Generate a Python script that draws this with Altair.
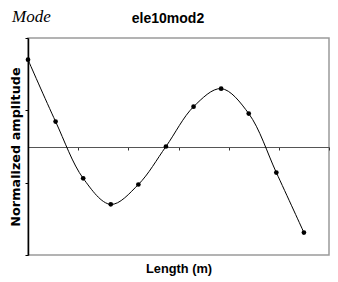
import altair as alt
import pandas as pd

# Data
length_m = [0.0, 1.1, 2.2, 3.3, 4.4, 5.5, 6.6, 7.7, 8.8, 9.9, 11.0]
amplitude = [2.40, 0.69, -0.88, -1.60, -1.05, 0.00, 1.10, 1.60, 0.91, -0.72, -2.38]
x_ticks = [0, 2, 4, 6, 8, 10, 12]
y_ticks = [-3, -2, -1, 0, 1, 2, 3]
chart_title = "ele10mod2"
caption_fragment = "Mode"

df = pd.DataFrame({"x": length_m, "y": amplitude})

FONT = "Liberation Sans"

x_scale = alt.Scale(domain=[0, 12], nice=False, zero=False)
y_scale = alt.Scale(domain=[-3, 3], nice=False)

x_enc = alt.X(
    "x:Q",
    scale=x_scale,
    axis=alt.Axis(
        title="Length (m)",
        values=x_ticks,
        labels=False,
        grid=False,
        offset=-108,
        domainColor="#555555",
        domainWidth=1.2,
        tickColor="#333333",
        tickSize=3,
        titleFont=FONT,
        titleFontSize=12.8,
        titleFontWeight="bold",
        titleColor="#000000",
        titleY=125,
        titleBaseline="alphabetic",
    ),
)
y_enc = alt.Y(
    "y:Q",
    scale=y_scale,
    axis=alt.Axis(
        title="Normalized amplitude",
        values=y_ticks,
        labels=False,
        grid=False,
        domainColor="#000000",
        domainWidth=1.5,
        tickColor="#000000",
        tickSize=3,
        titleFont="DejaVu Sans",
        titleFontSize=12.8,
        titleFontWeight="bold",
        titleColor="#000000",
        titlePadding=2,
    ),
)

line = alt.Chart(df).mark_line(
    interpolate="catmull-rom", color="#000000", strokeWidth=1
).encode(x=x_enc, y=y_enc)

points = alt.Chart(df).mark_circle(color="#000000", opacity=1, size=22).encode(
    x="x:Q", y="y:Q"
)

caption = alt.Chart(pd.DataFrame({"t": [caption_fragment]})).mark_text(
    font="Liberation Serif",
    fontStyle="italic",
    fontSize=17,
    align="left",
    baseline="alphabetic",
    color="#000000",
).encode(text="t:N", x=alt.value(-16), y=alt.value(-16))

title_text = alt.Chart(pd.DataFrame({"t": [chart_title]})).mark_text(
    font=FONT,
    fontSize=14,
    fontWeight="bold",
    align="center",
    baseline="alphabetic",
    color="#000000",
).encode(text="t:N", x=alt.value(140), y=alt.value(-15))

chart = (
    alt.layer(line, points, caption, title_text)
    .properties(
        width=301,
        height=217,
        autosize=alt.AutoSizeParams(type="none"),
        padding={"left": 20, "top": 30, "right": 1, "bottom": 27},
        background="#ffffff",
    )
    .configure_view(stroke="#9a9a9a", strokeWidth=1.5)
)

chart.save("out.html", embed_options={"renderer": "svg", "actions": False})
